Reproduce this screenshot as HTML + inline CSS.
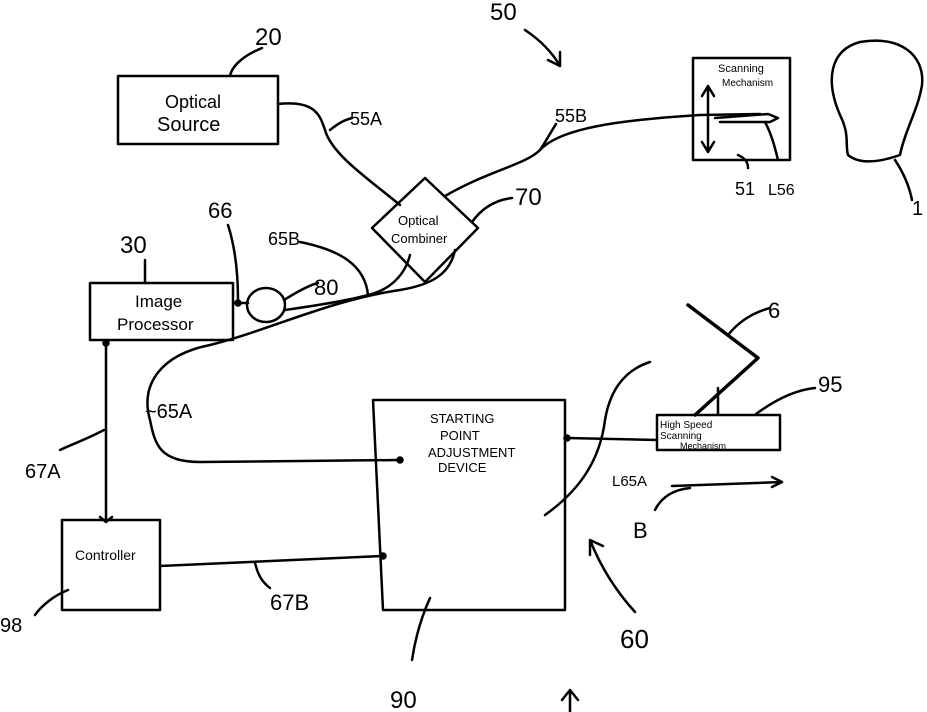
<!DOCTYPE html>
<html><head><meta charset="utf-8"><style>
html,body{margin:0;padding:0;background:#fff;}
svg{display:block}
text{font-family:"Liberation Sans",sans-serif;fill:#000}
</style></head><body>
<svg width="927" height="712" viewBox="0 0 927 712" xmlns="http://www.w3.org/2000/svg" fill="none" stroke="#000" stroke-width="2.5" stroke-linecap="round" stroke-linejoin="round">
<!-- 20 -->
<text x="255" y="45" font-size="24" stroke="none">20</text>
<path d="M262 48 C245 55 232 65 230 76"/>
<!-- Optical source -->
<rect x="118" y="76" width="160" height="68"/>
<text x="165" y="108" font-size="18" stroke="none">Optical</text>
<text x="157" y="131" font-size="20" stroke="none">Source</text>
<!-- 55A -->
<path d="M278 104 C315 100 320 115 325 130 C332 155 370 180 400 205"/>
<path d="M330 130 C340 122 345 120 352 118"/>
<text x="350" y="125" font-size="18" stroke="none">55A</text>
<!-- 50 -->
<text x="490" y="20" font-size="24" stroke="none">50</text>
<path d="M525 30 C540 40 552 52 560 66"/>
<path d="M548 60 L560 66 L560 52"/>
<!-- Diamond -->
<polygon points="425,178 478,228 425,282 372,228"/>
<text x="398" y="225" font-size="13" stroke="none">Optical</text>
<text x="391" y="243" font-size="13" stroke="none">Combiner</text>
<!-- 55B -->
<path d="M445 196 C490 170 525 165 540 150 C560 128 620 120 700 115 L760 114"/>
<path d="M540 150 C548 138 552 130 556 124"/>
<text x="555" y="122" font-size="18" stroke="none">55B</text>
<!-- 70 -->
<text x="515" y="205" font-size="24" stroke="none">70</text>
<path d="M512 198 C495 200 482 208 472 222"/>
<!-- Scanning mechanism box -->
<rect x="693" y="58" width="97" height="102"/>
<text x="718" y="72" font-size="11" stroke="none">Scanning</text>
<text x="722" y="86" font-size="10" stroke="none">Mechanism</text>
<path d="M708 88 L708 150 M702 96 L708 86 L714 96 M702 142 L708 152 L714 142"/>
<path d="M715 118 L768 114 L778 118 L770 122 L720 122"/>
<path d="M765 122 C772 135 775 148 778 160"/>
<path d="M738 155 C745 158 748 162 748 168"/>
<text x="735" y="195" font-size="18" stroke="none">51</text>
<text x="768" y="195" font-size="16" stroke="none">L56</text>
<!-- Head -->
<path d="M840 115 C825 80 830 50 860 42 C900 35 925 55 922 85 C918 110 905 130 900 155 C880 162 860 165 848 155 C845 145 850 135 840 115"/>
<path d="M895 160 C905 175 910 190 912 200"/>
<text x="912" y="215" font-size="20" stroke="none">1</text>
<!-- 66 / 30 / 65B -->
<text x="208" y="218" font-size="22" stroke="none">66</text>
<path d="M228 225 C236 250 238 275 238 300"/>
<text x="120" y="253" font-size="24" stroke="none">30</text>
<path d="M145 260 L145 283"/>
<text x="268" y="245" font-size="18" stroke="none">65B</text>
<path d="M300 242 C340 250 365 265 368 295 C390 290 405 275 410 255"/>
<!-- Image processor -->
<rect x="90" y="283" width="143" height="57"/>
<text x="135" y="307" font-size="17" stroke="none">Image</text>
<text x="117" y="330" font-size="17" stroke="none">Processor</text>
<circle cx="238" cy="303" r="2.5" fill="#000"/>
<path d="M233 303 L248 303"/>
<ellipse cx="266" cy="305" rx="19" ry="17"/>
<path d="M284 300 C300 290 310 285 318 283"/>
<text x="314" y="295" font-size="22" stroke="none">80</text>
<path d="M285 310 C320 305 350 300 368 295"/>
<!-- 65A -->
<path d="M455 250 C450 275 430 285 400 290 C330 300 270 330 210 345 C160 355 140 385 150 420 C155 445 160 462 200 462 L400 460"/>
<text x="145" y="418" font-size="20" stroke="none">~65A</text>
<!-- 67A -->
<circle cx="106" cy="343" r="2.5" fill="#000"/>
<path d="M106 343 L106 520"/>
<path d="M100 517 L106 522 L112 517"/>
<path d="M104 430 C85 440 70 445 60 450"/>
<text x="25" y="478" font-size="20" stroke="none">67A</text>
<!-- Controller -->
<rect x="62" y="520" width="98" height="90"/>
<text x="75" y="560" font-size="14" stroke="none">Controller</text>
<path d="M68 590 C55 595 42 605 35 615"/>
<text x="0" y="632" font-size="20" stroke="none">98</text>
<path d="M160 566 L383 556"/>
<circle cx="383" cy="556" r="2.5" fill="#000"/>
<path d="M255 563 C258 575 262 582 270 588"/>
<text x="270" y="610" font-size="22" stroke="none">67B</text>
<!-- Big box 90 -->
<path d="M373 400 L565 400 L565 610 L383 610 L373 400"/>
<text x="430" y="423" font-size="13" stroke="none">STARTING</text>
<text x="440" y="440" font-size="13" stroke="none">POINT</text>
<text x="428" y="457" font-size="13" stroke="none">ADJUSTMENT</text>
<text x="438" y="472" font-size="13" stroke="none">DEVICE</text>
<circle cx="400" cy="460" r="2.5" fill="#000"/>
<path d="M430 598 C420 620 415 640 412 660"/>
<text x="390" y="708" font-size="24" stroke="none">90</text>
<!-- 60 -->
<path d="M545 515 C580 490 600 460 605 420 C610 390 625 370 650 362"/>
<path d="M635 612 C615 590 600 565 590 540 M590 555 L590 540 L603 546"/>
<text x="620" y="648" font-size="26" stroke="none">60</text>
<text x="612" y="486" font-size="15" stroke="none">L65A</text>
<!-- 95 -->
<circle cx="567" cy="438" r="2.5" fill="#000"/>
<path d="M567 438 L657 440"/>
<rect x="657" y="415" width="123" height="35"/>
<text x="660" y="428" font-size="10" stroke="none">High Speed</text>
<text x="660" y="439" font-size="10" stroke="none">Scanning</text>
<text x="680" y="449" font-size="9" stroke="none">Mechanism</text>
<path d="M756 414 C775 400 795 390 815 388"/>
<text x="818" y="392" font-size="22" stroke="none">95</text>
<!-- mirror 6 -->
<path d="M688 305 L758 358 L695 415" stroke-width="3.5"/>
<path d="M718 388 L718 414"/>
<path d="M728 335 C740 320 755 312 770 308"/>
<text x="768" y="318" font-size="22" stroke="none">6</text>
<!-- B -->
<path d="M672 486 L782 482 M772 477 L782 482 L772 487"/>
<path d="M690 488 C670 490 660 500 655 510"/>
<text x="633" y="538" font-size="22" stroke="none">B</text>
<!-- bottom arrow -->
<path d="M570 690 L570 712 M562 700 L570 690 L578 700"/>
</svg>
</body></html>
